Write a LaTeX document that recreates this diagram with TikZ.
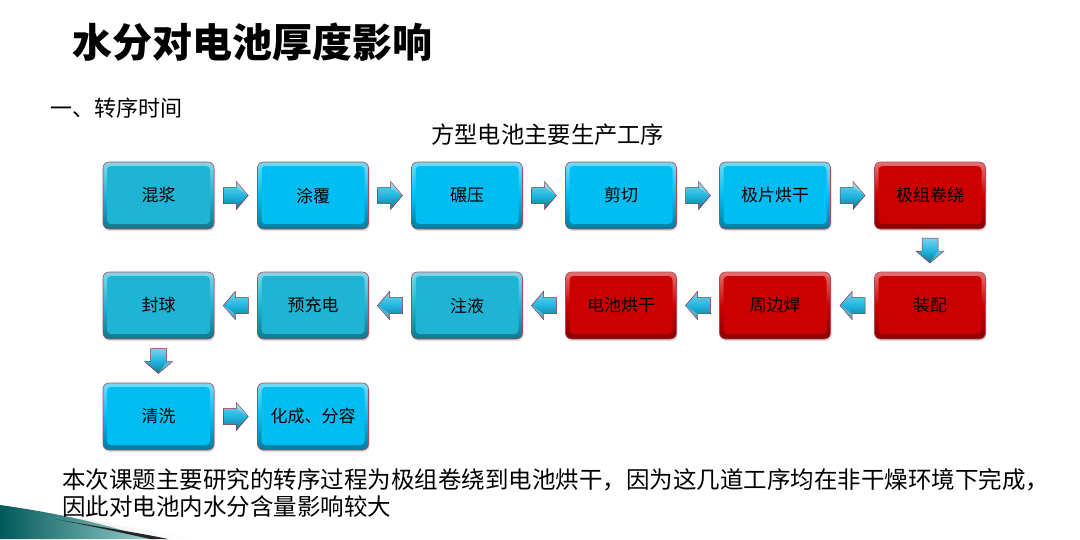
\documentclass[tikz,border=0pt]{standalone}
\usepackage{fontspec}
\newfontfamily\cjk{Noto Sans CJK SC}
\usetikzlibrary{shadows,calc}
\definecolor{teal1}{HTML}{1FB4D4}
\definecolor{cyan1}{HTML}{00BEF2}
\definecolor{red1}{HTML}{CC0000}
\definecolor{edge1}{HTML}{B04858}
\definecolor{arrfill}{HTML}{20B6E0}
\definecolor{arredge}{HTML}{902838}
\tikzset{
  stepbox/.style={rounded corners=6pt, minimum width=111pt, minimum height=67pt,
    draw=edge1, line width=0.6pt, font=\cjk\fontsize{17}{17}\selectfont,
    drop shadow={opacity=0.25, shadow xshift=1pt, shadow yshift=-2pt},
    top color=#1!55!white, bottom color=#1!65!black, middle color=#1,
    path picture={\fill[#1, rounded corners=4pt]
      ([xshift=4pt,yshift=-4pt]path picture bounding box.north west) rectangle
      ([xshift=-4pt,yshift=5pt]path picture bounding box.south east);}},
  barr/.pic={
    \shade[draw=arredge, line width=0.5pt, top color=arrfill!60!white, bottom color=arrfill!65!black, middle color=arrfill]
      (-12.5,-8) -- (0.5,-8) -- (0.5,-14) -- (12.5,0) -- (0.5,14) -- (0.5,8) -- (-12.5,8) -- cycle;
    \fill[white, opacity=0.25] (0.5,-8) -- (0.5,-14) -- (12.5,0) -- cycle;
  },
  txt/.style={inner sep=0pt, anchor=base west, font=\cjk}
}
\begin{document}
\begin{tikzpicture}[x=1pt,y=-1pt]
\useasboundingbox (0,0) rectangle (1080,539);
\fill[white] (0,0) rectangle (1080,539);
% bottom-left decoration
\shade[left color=black!10!white, right color=white] (40,512) .. controls (100,522) and (150,531) .. (200,539) -- (0,539) -- cycle;
\shade[left color=teal!70!black, right color=teal!40!white] (0,505) .. controls (50,512) and (100,522) .. (150,539) -- (0,539) -- cycle;
\fill[black!85] (55,519) .. controls (100,527) and (140,533) .. (168,539) -- (150,539) .. controls (110,530) and (80,524) .. (55,519) -- cycle;
% texts
\node[txt, font=\cjk\bfseries\fontsize{40}{40}\selectfont] (title) at (72,57) {水分对电池厚度影响};
\node[txt, font=\cjk\fontsize{22}{22}\selectfont] (sec) at (50,116) {一、转序时间};
\node[txt, font=\cjk\fontsize{23.3}{23.3}\selectfont] (cap) at (431,143) {方型电池主要生产工序};
\node[txt, font=\cjk\fontsize{23.5}{23.5}\selectfont] (l1) at (62,488) {本次课题主要研究的转序过程为极组卷绕到电池烘干，因为这几道工序均在非干燥环境下完成，};
\node[txt, font=\cjk\fontsize{23.5}{23.5}\selectfont] (l2) at (62,515) {因此对电池内水分含量影响较大};
% row 1
\node[stepbox=teal1] (a1) at (158.5,195.5) {混浆};
\node[stepbox=cyan1] (a2) at (313,195.5) {涂覆};
\node[stepbox=cyan1] (a3) at (467,195.5) {碾压};
\node[stepbox=cyan1] (a4) at (621,195.5) {剪切};
\node[stepbox=cyan1] (a5) at (775,195.5) {极片烘干};
\node[stepbox=red1] (a6) at (930,195.5) {极组卷绕};
% row 2
\node[stepbox=teal1] (b1) at (158.5,305.5) {封球};
\node[stepbox=teal1] (b2) at (313,305.5) {预充电};
\node[stepbox=teal1] (b3) at (467,305.5) {注液};
\node[stepbox=red1] (b4) at (621,305.5) {电池烘干};
\node[stepbox=red1] (b5) at (775,305.5) {周边焊};
\node[stepbox=red1] (b6) at (930,305.5) {装配};
% row 3
\node[stepbox=cyan1] (c1) at (158.5,416.5) {清洗};
\node[stepbox=cyan1] (c2) at (313,416.5) {化成、分容};
% block arrows between named boxes
\path ($(a1.east)!0.5!(a2.west)$) pic {barr};
\path ($(a2.east)!0.5!(a3.west)$) pic {barr};
\path ($(a3.east)!0.5!(a4.west)$) pic {barr};
\path ($(a4.east)!0.5!(a5.west)$) pic {barr};
\path ($(a5.east)!0.5!(a6.west)$) pic {barr};
\path ($(a6.south)!0.5!(b6.north)$) pic[rotate=-90] {barr};
\path ($(b6.west)!0.5!(b5.east)$) pic[rotate=180] {barr};
\path ($(b5.west)!0.5!(b4.east)$) pic[rotate=180] {barr};
\path ($(b4.west)!0.5!(b3.east)$) pic[rotate=180] {barr};
\path ($(b3.west)!0.5!(b2.east)$) pic[rotate=180] {barr};
\path ($(b2.west)!0.5!(b1.east)$) pic[rotate=180] {barr};
\path ($(b1.south)!0.5!(c1.north)$) pic[rotate=-90] {barr};
\path ($(c1.east)!0.5!(c2.west)$) pic {barr};
\end{tikzpicture}
\end{document}
